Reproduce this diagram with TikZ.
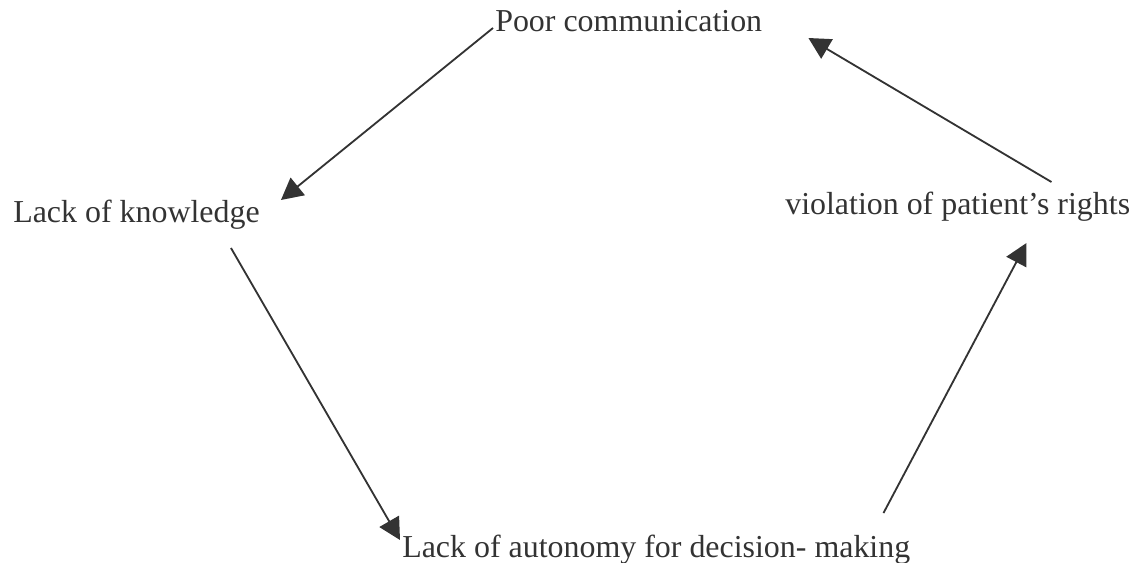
\documentclass[tikz,border=0pt]{standalone}
\usepackage{fontspec}
\setmainfont{Liberation Serif}
\usetikzlibrary{arrows.meta}
\tikzset{
    ->, % makes the lines directed
    >={Triangle[length=5.4mm, width=5.6mm]}, % filled heads as in the scan
    x=0.025cm, y=-0.025cm, % one unit is one pixel, y runs down
}
\begin{document}
\begin{tikzpicture}[
                                styleText/.style={anchor=base west, inner sep=0pt, text=black!80, font=\fontsize{22.7}{27}\selectfont},
                                styleArrow/.style={every edge/.style={draw=black!80, line width=1.3pt}},
                            ]
                            \useasboundingbox (0,0) rectangle (1141,563);
                            \node[styleText] (poorComm) at (495,32) {Poor communication};
                            \node[styleText] (lackKnow) at (13,223) {Lack of knowledge};
                            \node[styleText] (violRights) at (785,215) {violation of patient’s rights};
                            \node[styleText] (lackAuto) at (402,557) {Lack of autonomy for decision- making};
                            \path[styleArrow]
                            ([shift={(-2,-4)}]poorComm.base west) edge ([shift={(21,-23)}]lackKnow.base east)
                            ([shift={(-29,25)}]lackKnow.base east) edge ([shift={(-2,-17)}]lackAuto.base west)
                            ([shift={(-27,-44)}]lackAuto.base east) edge ([shift={(-104,28)}]violRights.base east)
                            ([shift={(-79,-33)}]violRights.base east) edge ([shift={(46,6)}]poorComm.base east);
                        \end{tikzpicture}
\end{document}
